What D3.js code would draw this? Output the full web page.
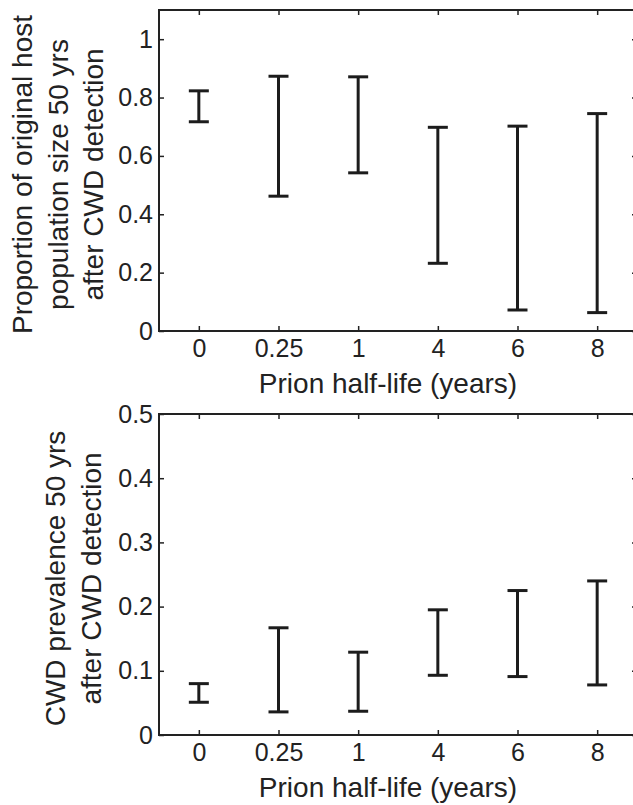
<!DOCTYPE html>
<html>
<head>
<meta charset="utf-8">
<script src="https://cdn.jsdelivr.net/npm/d3@7"></script>
<style>
  body { margin: 0; background: #fff; }
  svg text { font-family: "Liberation Sans", Arial, sans-serif; fill: #222; }
</style>
</head>
<body>
<div id="chart"></div>
<script>
"use strict";

// prion half-life categories (years)
var categories = ["0", "0.25", "1", "4", "6", "8"];

// panel A: proportion of original host population size
var popLow  = [0.717, 0.462, 0.542, 0.232, 0.072, 0.063];
var popHigh = [0.823, 0.873, 0.871, 0.698, 0.702, 0.745];
var popTicks = [0, 0.2, 0.4, 0.6, 0.8, 1];

// panel B: CWD prevalence
var prevLow  = [0.051, 0.036, 0.037, 0.093, 0.091, 0.078];
var prevHigh = [0.080, 0.167, 0.129, 0.195, 0.225, 0.240];
var prevTicks = [0, 0.1, 0.2, 0.3, 0.4, 0.5];

var W = 633, H = 805;
var left = 159, right = 637;
var ink = "#222";

var svg = d3.select("#chart").append("svg")
	.attr("width", W)
	.attr("height", H);

var x = d3.scalePoint()
	.domain(categories)
	.range([left, right])
	.padding(0.5);

function panel(opts) {
	var y = d3.scaleLinear().domain(opts.domain).range([opts.bottom, opts.top]);
	var g = svg.append("g");
	var fmt = d3.format("~g");

	// left axis with labels, ticks pointing inward
	g.append("g")
		.attr("transform", "translate(" + left + ",0)")
		.call(d3.axisLeft(y).tickValues(opts.ticks).tickFormat(fmt).tickSize(-5).tickSizeOuter(0).tickPadding(6))
		.call(function (a) { a.select(".domain").remove(); })
		.call(function (a) { a.selectAll("line").attr("stroke", ink).attr("stroke-width", 1.5); })
		.call(function (a) { a.selectAll("text").style("font-size", "25px").attr("fill", ink); });

	// right axis, ticks only
	g.append("g")
		.attr("transform", "translate(" + right + ",0)")
		.call(d3.axisRight(y).tickValues(opts.ticks).tickFormat("").tickSize(-5).tickSizeOuter(0))
		.call(function (a) { a.select(".domain").remove(); })
		.call(function (a) { a.selectAll("line").attr("stroke", ink).attr("stroke-width", 1.5); });

	// bottom axis
	g.append("g")
		.attr("transform", "translate(0," + opts.bottom + ")")
		.call(d3.axisBottom(x).tickSize(-5).tickSizeOuter(0).tickPadding(8))
		.call(function (a) { a.select(".domain").remove(); })
		.call(function (a) { a.selectAll("line").attr("stroke", ink).attr("stroke-width", 1.5); })
		.call(function (a) { a.selectAll("text").style("font-size", "25px").attr("fill", ink); });

	// top axis, ticks only
	g.append("g")
		.attr("transform", "translate(0," + opts.top + ")")
		.call(d3.axisTop(x).tickFormat("").tickSize(-5).tickSizeOuter(0))
		.call(function (a) { a.select(".domain").remove(); })
		.call(function (a) { a.selectAll("line").attr("stroke", ink).attr("stroke-width", 1.5); });

	// box
	g.append("rect")
		.attr("x", left)
		.attr("y", opts.top)
		.attr("width", right - left)
		.attr("height", opts.bottom - opts.top)
		.attr("fill", "none")
		.attr("stroke", ink)
		.attr("stroke-width", 2);

	// error bars
	var capW = 10;
	var bars = g.selectAll(".bar")
		.data(categories.map(function (c, i) { return { c: c, lo: opts.low[i], hi: opts.high[i] }; }))
		.enter().append("g")
		.attr("class", "bar")
		.attr("stroke", "#1c1c1c")
		.attr("stroke-width", 3);
	bars.append("line")
		.attr("x1", function (d) { return x(d.c); })
		.attr("x2", function (d) { return x(d.c); })
		.attr("y1", function (d) { return y(d.lo); })
		.attr("y2", function (d) { return y(d.hi); });
	bars.append("line")
		.attr("x1", function (d) { return x(d.c) - capW; })
		.attr("x2", function (d) { return x(d.c) + capW; })
		.attr("y1", function (d) { return y(d.hi); })
		.attr("y2", function (d) { return y(d.hi); });
	bars.append("line")
		.attr("x1", function (d) { return x(d.c) - capW; })
		.attr("x2", function (d) { return x(d.c) + capW; })
		.attr("y1", function (d) { return y(d.lo); })
		.attr("y2", function (d) { return y(d.lo); });

	// x label
	g.append("text")
		.attr("x", 388)
		.attr("y", opts.bottom + 62)
		.attr("text-anchor", "middle")
		.style("font-size", "28px")
		.text("Prion half-life (years)");

	// y label, several lines
	var cy = (opts.top + opts.bottom) / 2 + 4;
	var yl = g.append("g")
		.attr("transform", "translate(0," + cy + ") rotate(-90)");
	yl.selectAll("text")
		.data(opts.ylabel)
		.enter().append("text")
		.attr("x", 0)
		.attr("y", function (d, i) { return opts.ylabelBase + i * 35.5; })
		.attr("text-anchor", "middle")
		.style("font-size", "28px")
		.text(function (d) { return d; });
}

panel({
	top: 10, bottom: 331,
	domain: [0, 1.1],
	ticks: popTicks,
	low: popLow, high: popHigh,
	ylabel: ["Proportion of original host", "population size 50 yrs", "after CWD detection"],
	ylabelBase: 32
});

panel({
	top: 414, bottom: 735,
	domain: [0, 0.5],
	ticks: prevTicks,
	low: prevLow, high: prevHigh,
	ylabel: ["CWD prevalence 50 yrs", "after CWD detection"],
	ylabelBase: 65
});
</script>
</body>
</html>
